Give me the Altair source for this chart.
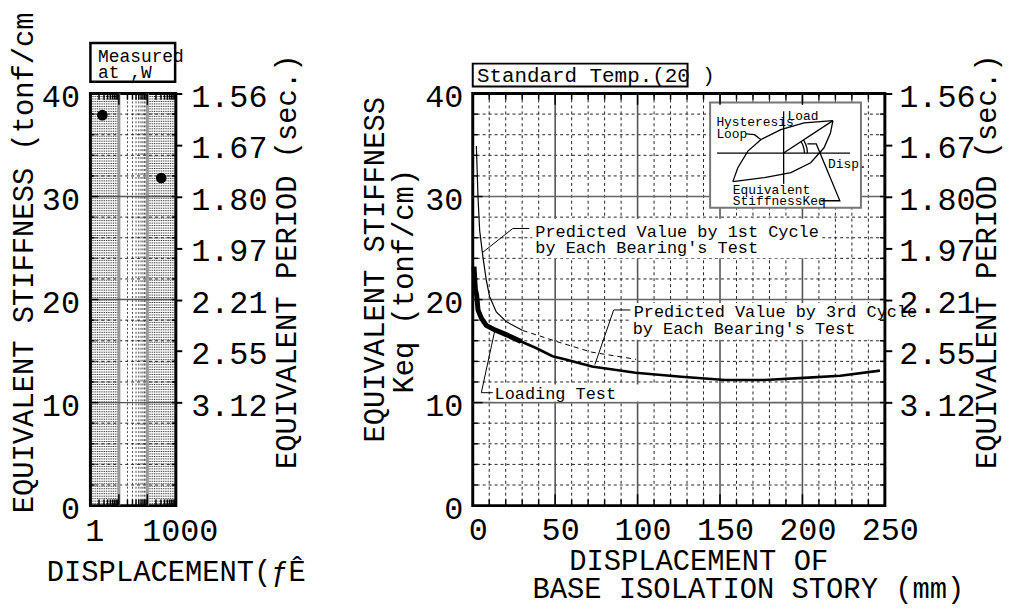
import altair as alt
import pandas as pd

FONT = "Liberation Mono"

# ---------------- data: right panel (displacement mm -> Keq tonf/cm) ----------------
loading_x = [0.8, 1.2, 1.6, 2.4, 3.2, 5.2, 8.2, 13.3, 20.3, 29.3]
loading_y = [23.2, 22.0, 21.0, 20.4, 19.0, 18.2, 17.5, 17.06, 16.6, 15.93]

third_x = [1.0, 1.6, 2.4, 3.2, 5.2, 8.2, 13.3, 20.3, 29.3, 38.4, 48.4, 56.4, 72.3,
           98.8, 126.5, 153, 177, 201, 223, 247]
third_y = [22.5, 21.0, 20.4, 19.0, 18.2, 17.5, 17.06, 16.6, 15.93, 15.3, 14.5, 14.17,
           13.5, 12.9, 12.5, 12.2, 12.2, 12.4, 12.6, 13.1]

first_x = [2.2, 3.2, 4.2, 6.2, 8.2, 10.2, 14.3, 20.3, 30.3]
first_y = [34.9, 29.9, 26.7, 24.1, 21.9, 20.3, 18.8, 17.86, 17.0]
first_dash_x = [30.3, 40, 52.4, 72, 99]
first_dash_y = [17.0, 16.5, 15.85, 14.9, 14.2]

# ---------------- data: left panel (log displacement) ----------------
meas_x = [2.62, 307]
meas_y = [37.9, 31.8]

# ---------------- tick values / labels ----------------
k_ticks = [0, 10, 20, 30, 40]
period_k = [10, 15, 20, 25, 30, 35, 40]
period_labels = ["3.12", "2.55", "2.21", "1.97", "1.80", "1.67", "1.56"]
x_ticks_right = [0, 50, 100, 150, 200, 250]
x_ticks_left = [1, 1000]

grid_minor_k = [2, 4, 6, 8, 12, 14, 16, 18, 22, 24, 26, 28, 32, 34, 36, 38]
grid_major_k = [10, 20, 30]
grid_minor_r = [10, 20, 30, 40, 60, 70, 80, 90, 110, 120, 130, 140, 160, 170, 180, 190,
                210, 220, 230, 240]
grid_major_r = [50, 100, 150, 200]
decade_fine = [1.15, 1.33, 1.54, 1.78, 2.05, 2.37, 2.74, 3.16, 3.65, 4.22, 4.87, 5.62,
               6.49, 7.5, 8.66]
grid_fine_l = decade_fine + [v * 100 for v in decade_fine]
grid_minor_l = [20, 30, 40, 50, 60, 70, 80, 90]
grid_major_l = [10, 100]
log_minor = [2, 3, 4, 5, 6, 7, 8, 9, 20, 30, 40, 50, 60, 70, 80, 90,
             200, 300, 400, 500, 600, 700, 800, 900]

# ---------------- annotations (data coordinates) ----------------
leader_1st = [(6.2, 24.6), (24.3, 26.9), (34.3, 26.9)]
leader_3rd = [(95.6, 18.99), (85.5, 18.99), (74.1, 13.69)]
leader_load = [(13.25, 16.9), (5.2, 10.96), (12.2, 10.96)]

inset_hax = [(148.2, 34.22), (228.9, 34.22)]
inset_vax = [(188.6, 31.23), (188.6, 38.27)]
inset_upper = [(157.8, 31.45), (160.8, 32.80), (166.9, 34.41), (174.9, 35.54),
               (186.9, 36.50), (201.0, 37.14), (218.5, 37.37)]
inset_lower = [(157.8, 31.45), (176.9, 31.84), (193.0, 32.32), (205.0, 33.28),
               (213.1, 34.73), (217.0, 36.17), (218.5, 37.37)]
inset_secant = [(188.6, 34.22), (218.5, 37.37)]
inset_arc1 = [(203.0, 34.22), (202.8, 34.66), (202.0, 35.08), (200.7, 35.48)]
inset_arc2 = [(201.2, 34.22), (200.96, 34.60), (200.3, 34.98), (199.2, 35.32)]
inset_loop_leader = [(165.8, 36.08), (170.9, 36.0), (174.9, 35.5)]
inset_keq_leader = [(203.0, 35.11), (208.4, 35.11), (222.7, 29.59), (211.0, 29.59)]

texts_r = [
    ("Standard Temp.(20  )", 2.6, 41.16, 21),
    ("Predicted Value by 1st Cycle", 37.95, 26.12, 17),
    ("by Each Bearing's Test", 37.95, 24.51, 17),
    ("Predicted Value by 3rd Cycle", 97.6, 18.28, 17),
    ("by Each Bearing's Test", 97.0, 16.65, 17),
    ("Loading Test", 13.25, 10.38, 17),
    ("Hysteresis", 147.8, 36.82, 13),
    ("Loop", 147.8, 35.69, 13),
    ("Load", 191.0, 37.46, 13),
    ("Disp.", 215.5, 32.8, 13),
    ("Equivalent", 157.8, 30.24, 13),
    ("StiffnessKeq", 157.8, 29.2, 13),
]
bg_rects_r = [(36.1, 212, 24.0, 27.85), (96.0, 249, 16.1, 19.66), (12.0, 112.6, 10.1, 11.76)]
inset_box = [(144.0, 235.5, 28.92, 39.13)]
temp_box = [(0.0, 130.3, 40.67, 42.9)]

texts_l = [("Measured", 1.856, 43.02, 18), ("at ,W", 1.856, 41.5, 18)]
meas_box = [(1.0, 946, 41.13, 44.9)]

# ---------------- scales / axes ----------------
xs_r = alt.Scale(domain=[0, 250], nice=False, zero=False)
xs_l = alt.Scale(type="log", domain=[1, 1000], nice=False)
ys = alt.Scale(domain=[0, 40], nice=False, zero=False)


def x_axis(values, pad, offset, title, tx, ty):
    return alt.Axis(values=values, format="d", ticks=False, domain=False, grid=False,
                    labelFontSize=32, labelFont=FONT, labelPadding=pad, labelOffset=offset,
                    labelFlush=False, labelOverlap=False,
                    title=title, titleFont=FONT, titleFontSize=29, titleFontWeight="normal",
                    titleX=tx, titleY=ty, titleAlign="center", titleBaseline="alphabetic")


def y_axis(pad, title, tx, ty):
    return alt.Axis(values=k_ticks, ticks=False, domain=False, grid=False,
                    labelFontSize=32, labelFont=FONT, labelPadding=pad, labelOffset=3,
                    title=title, titleFont=FONT, titleFontSize=29, titleFontWeight="normal",
                    titleAngle=270, titleX=tx, titleY=ty, titleAlign="center",
                    titleBaseline="alphabetic")


period_expr = " : ".join(f"datum.value == {k} ? '{l}'"
                         for k, l in zip(period_k, period_labels)) + " : ''"


def period_axis(tick, pad, tx, ty):
    return alt.Axis(orient="right", values=period_k, labelExpr=period_expr, ticks=True,
                    tickSize=tick, tickWidth=2, tickColor="black", domain=False, grid=False,
                    labelFontSize=32, labelFont=FONT, labelPadding=pad, labelOffset=3,
                    title="EQUIVALENT PERIOD (sec.)", titleFont=FONT, titleFontSize=29,
                    titleFontWeight="normal", titleAngle=270, titleX=tx, titleY=ty,
                    titleAlign="center", titleBaseline="alphabetic")


class Panel:
    def __init__(self, xscale, xaxis, yaxis):
        self.xs = xscale
        self.xa = xaxis
        self.ya = yaxis

    def X(self):
        return alt.X("x:Q", scale=self.xs, axis=self.xa)

    def Y(self):
        return alt.Y("y:Q", scale=ys, axis=self.ya)

    def vrules(self, vals, color, width, dash=None):
        kw = {"strokeDash": dash} if dash else {}
        return alt.Chart(pd.DataFrame({"x": vals})).mark_rule(
            color=color, strokeWidth=width, **kw).encode(x=self.X())

    def hrules(self, vals, color, width, dash=None):
        kw = {"strokeDash": dash} if dash else {}
        return alt.Chart(pd.DataFrame({"y": vals})).mark_rule(
            color=color, strokeWidth=width, **kw).encode(y=self.Y())

    def segs(self, rows, color="black", width=1.5):
        df = pd.DataFrame(rows, columns=["x", "x2", "y", "y2"])
        return alt.Chart(df).mark_rule(color=color, strokeWidth=width).encode(
            x=self.X(), x2="x2:Q", y=self.Y(), y2="y2:Q")

    def polylines(self, segments, color="black", width=1.0, dash=None):
        rows = []
        for s, pts in enumerate(segments):
            for i, (x, y) in enumerate(pts):
                rows.append({"seg": s, "i": i, "x": x, "y": y})
        kw = {"strokeDash": dash} if dash else {}
        return alt.Chart(pd.DataFrame(rows)).mark_line(
            color=color, strokeWidth=width, **kw).encode(
            x=self.X(), y=self.Y(), detail="seg:N", order="i:Q")

    def line(self, xv, yv, width, dash=None):
        return self.polylines([list(zip(xv, yv))], width=width, dash=dash)

    def rects(self, rows, fill, stroke=None, width=0):
        df = pd.DataFrame(rows, columns=["x", "x2", "y", "y2"])
        kw = {"stroke": stroke, "strokeWidth": width} if stroke else {}
        return alt.Chart(df).mark_rect(fill=fill, **kw).encode(
            x=self.X(), x2="x2:Q", y=self.Y(), y2="y2:Q")

    def texts(self, rows, align="left", angle=0):
        df = pd.DataFrame(rows, columns=["t", "x", "y", "fs"])
        kw = {"angle": angle} if angle else {}
        return alt.Chart(df).mark_text(
            align=align, baseline="alphabetic", font=FONT, color="black", **kw).encode(
            x=self.X(), y=self.Y(), text="t:N", size=alt.Size("fs:Q", scale=None))

    def points(self, xv, yv, size):
        return alt.Chart(pd.DataFrame({"x": xv, "y": yv})).mark_circle(
            color="black", size=size, opacity=1).encode(x=self.X(), y=self.Y())


def period_layer(tick, pad, tx, ty):
    return alt.Chart(pd.DataFrame({"y": period_k})).mark_rule(
        strokeOpacity=0).encode(
        y=alt.Y("y:Q", scale=ys, axis=period_axis(tick, pad, tx, ty)))


# ---------------- right panel ----------------
R = Panel(xs_r,
          x_axis(x_ticks_right, 9, 5, "DISPLACEMENT OF", 227, 64),
          y_axis(10, "EQUIVALENT STIFFNESS", -90, 177))

r_tick_rows = (
    [(0, 3, v, v) for v in grid_minor_k] + [(0, 6, v, v) for v in grid_major_k]
    + [(247, 250, v, v) for v in grid_minor_k + grid_major_k]
    + [(v, v, 0, 0.6) for v in grid_minor_r] + [(v, v, 0, 1.1) for v in grid_major_r]
    + [(v, v, 39.4, 40) for v in grid_minor_r] + [(v, v, 38.9, 40) for v in grid_major_r]
)

right_main = alt.layer(
    R.vrules(grid_minor_r, "#222", 1, [3, 3]),
    R.hrules(grid_minor_k, "#222", 1, [3, 3]),
    R.vrules(grid_major_r, "#555", 1.6),
    R.hrules(grid_major_k, "#666", 1.6),
    R.rects(bg_rects_r, "white"),
    R.rects(inset_box, "white", "#777", 2),
    R.rects(temp_box, "white", "black", 2),
    R.line(first_x, first_y, 1.2),
    R.line(first_dash_x, first_dash_y, 1.0, [5, 4]),
    R.line(third_x, third_y, 2.6),
    R.line(loading_x, loading_y, 5),
    R.polylines([leader_1st, leader_3rd, leader_load], width=1.0),
    R.polylines([inset_hax, inset_vax, inset_upper, inset_lower, inset_secant,
                 inset_arc1, inset_arc2, inset_loop_leader, inset_keq_leader], width=1.3),
    R.texts(texts_r),
    R.texts([("BASE ISOLATION STORY (mm)", 167.2, -9.0, 29)], align="center"),
    R.texts([("Keq (tonf/cm)", -36.1, 21.78, 29)], align="center", angle=270),
    R.segs(r_tick_rows, width=1.5),
)

right = alt.layer(right_main, period_layer(7, 7, 111, 169)).resolve_scale(
    y="independent").properties(width=415, height=415)

# ---------------- left panel ----------------
L = Panel(xs_l,
          x_axis(x_ticks_left, 10, 4, "DISPLACEMENT(ƒÊ", 86, 75),
          y_axis(11, "EQUIVALENT STIFFNESS (tonf/cm", -58, 170))

l_tick_rows = (
    [(1, 1.4, v, v) for v in grid_minor_k] + [(1, 1.9, v, v) for v in grid_major_k]
    + [(714, 1000, v, v) for v in grid_minor_k + grid_major_k]
    + [(v, v, 0, 0.6) for v in log_minor] + [(v, v, 0, 1.1) for v in grid_major_l]
    + [(v, v, 39.4, 40) for v in log_minor] + [(v, v, 38.9, 40) for v in grid_major_l]
)

left_main = alt.layer(
    L.vrules(grid_fine_l, "#222", 1.0, [1, 1.5]),
    L.vrules(grid_minor_l, "#333", 0.9, [2, 2]),
    L.hrules(grid_minor_k, "#222", 1, [3, 3]),
    L.vrules(grid_major_l, "#999", 3),
    L.hrules(grid_major_k, "#555", 1.4),
    L.rects(meas_box, "white", "black", 2.5),
    L.texts(texts_l),
    L.points(meas_x, meas_y, 115),
    L.segs(l_tick_rows, width=1.5),
)

left = alt.layer(left_main, period_layer(6, 9, 121, 169)).resolve_scale(
    y="independent").properties(width=86, height=415)

chart = alt.hconcat(left, right, spacing=299, bounds="flush").properties(
    padding={"left": 0, "top": 0, "right": 4, "bottom": 0}
).configure_view(stroke="black", strokeWidth=3).configure_axis(
    labelColor="black", titleColor="black")

chart.save("out.html", embed_options={"renderer": "svg", "actions": False})
